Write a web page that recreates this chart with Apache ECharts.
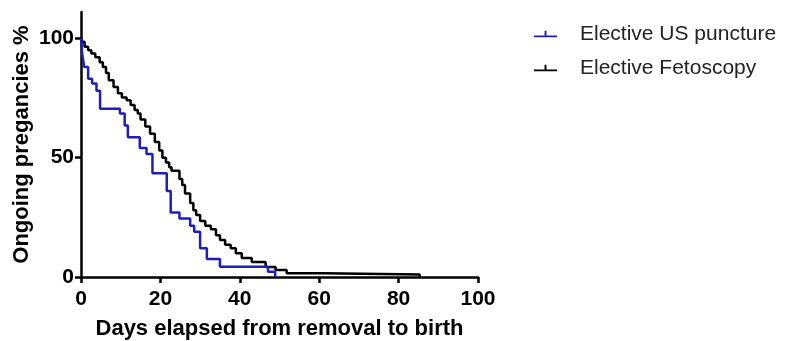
<!DOCTYPE html>
<html>
<head>
<meta charset="utf-8">
<script src="https://cdn.jsdelivr.net/npm/echarts@6/dist/echarts.min.js"></script>
<style>
  html, body { margin: 0; padding: 0; background: #fff; }
  #chart { width: 785px; height: 341px; }
</style>
</head>
<body>
<div id="chart"></div>
<script>
// Kaplan-Meier style steps: [day, % still ongoing], value holds from that day on
const usPuncture = [
  [0, 100], [0.3, 93.5], [0.8, 88], [1.8, 83], [2.8, 81], [3.9, 78], [4.8, 70.5],
  [9.8, 68.5], [11, 63.5], [11.8, 58.5], [14.8, 54], [16.5, 51.5], [18, 43.5],
  [21.6, 36], [22.6, 27], [24.8, 24.5], [27.5, 21.5], [28.5, 19], [30, 12],
  [31.7, 7.5], [35, 4.3], [47.1, 2.2], [48.9, 0]
];
const fetoscopy = [
  [0, 100], [0.2, 98.5], [0.9, 96.4], [1.8, 95], [2.6, 93.6], [3.6, 92], [4.7, 90],
  [5.5, 88], [6.3, 85.5], [7.0, 82.4], [8.2, 79.6], [9.3, 77], [10.3, 75.2],
  [11.5, 74], [12.5, 72], [13.5, 70], [14.3, 68.5], [15.0, 66], [16.2, 63],
  [17.4, 60], [18.6, 56.5], [19.7, 53], [20.5, 50], [21.4, 48], [22.2, 46],
  [22.8, 44.5], [24.8, 41], [25.5, 38.5], [26.2, 35], [27.5, 31], [28.3, 28],
  [29.0, 26], [30.0, 23.5], [31.3, 21.5], [32.7, 20], [34.0, 17.5], [35.0, 15.5],
  [36.3, 13.5], [37.7, 12], [39.0, 10], [40.5, 8], [43, 6.3], [46.5, 4.2],
  [49.0, 2.9], [51.8, 1.6], [61, 1.0], [85.3, 0]
];
const seriesNames = ['Elective US puncture', 'Elective Fetoscopy'];
const xTicks = [0, 20, 40, 60, 80, 100];
const yTicks = [0, 50, 100];

const BLUE = '#1f1fb8';
const FONT = 'Liberation Sans, Arial, sans-serif';
// legend glyph: short line with a small censor tick
const censorIcon = 'path://M0,9 L24,9 L24,11 L0,11 Z M11,4 L13,4 L13,10 L11,10 Z';

const chart = echarts.init(document.getElementById('chart'));

const axisCommon = {
  axisLine: { show: true, lineStyle: { color: '#000', width: 2.5 } },
  axisTick: { show: true, length: 6, lineStyle: { color: '#000', width: 2.5 } },
  splitLine: { show: false },
  axisLabel: { color: '#000', fontSize: 21, fontWeight: 'bold', fontFamily: FONT },
  nameTextStyle: { color: '#000', fontSize: 22, fontWeight: 'bold', fontFamily: FONT }
};

chart.setOption({
  animation: false,
  backgroundColor: '#fff',
  grid: { left: 81, right: 307, top: 12, bottom: 64, outerBoundsMode: 'none', containLabel: false },
  legend: {
    orient: 'vertical',
    left: 529,
    top: 17,
    itemWidth: 23,
    itemHeight: 14,
    itemGap: 10,
    textStyle: { color: '#222', fontSize: 21, fontFamily: FONT, lineHeight: 24, padding: [0, 0, 0, 18] },
    data: seriesNames.map(n => ({ name: n, icon: censorIcon }))
  },
  xAxis: {
    type: 'value',
    min: 0,
    max: 100,
    interval: 20,
    name: 'Days elapsed from removal to birth',
    nameLocation: 'middle',
    nameGap: 41,
    nameMoveOverlap: false,
    ...axisCommon,
    axisLabel: { ...axisCommon.axisLabel, margin: 12, customValues: xTicks },
    axisTick: { ...axisCommon.axisTick, customValues: xTicks }
  },
  yAxis: {
    type: 'value',
    min: 0,
    max: 111,
    name: 'Ongoing pregancies %',
    nameLocation: 'middle',
    nameGap: 48,
    nameMoveOverlap: false,
    ...axisCommon,
    axisLabel: { ...axisCommon.axisLabel, margin: 7, customValues: yTicks },
    axisTick: { ...axisCommon.axisTick, customValues: yTicks }
  },
  series: [
    {
      name: seriesNames[0],
      type: 'line',
      step: 'end',
      data: usPuncture,
      showSymbol: false,
      symbol: 'none',
      color: BLUE,
      lineStyle: { color: BLUE, width: 2.5 },
      z: 3
    },
    {
      name: seriesNames[1],
      type: 'line',
      step: 'end',
      data: fetoscopy,
      showSymbol: false,
      symbol: 'none',
      color: '#000',
      lineStyle: { color: '#000', width: 2.5 },
      z: 2
    }
  ]
});
</script>
</body>
</html>
